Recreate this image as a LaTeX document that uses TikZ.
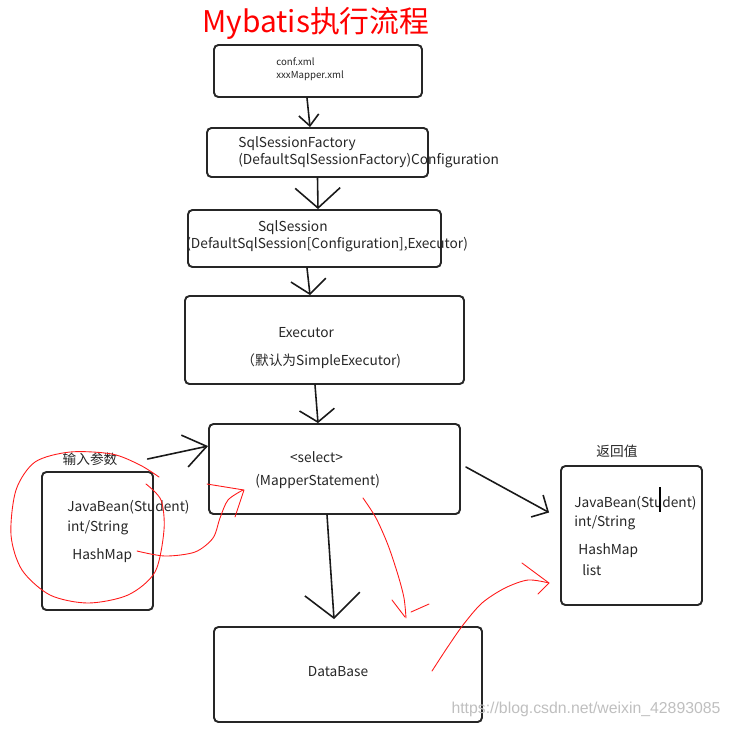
\documentclass[tikz,border=0pt]{standalone}
\usepackage{fontspec}
\setmainfont{Noto Sans CJK SC}
\newfontfamily\urlfont{Liberation Sans}
\usetikzlibrary{arrows.meta, positioning}

\begin{document}
\begin{tikzpicture}[
    x=0.02cm, y=-0.02cm,
    font=\fontsize{7.8}{9.6}\selectfont,
    box/.style={draw=black!85, line width=1.1pt, rounded corners=2.5pt, inner sep=0pt},
    txt/.style={inner sep=0pt, anchor=north west, align=left, text=black!85},
    arrow/.style={line width=0.9pt, black!90, line cap=round},
    sketch/.style={red!90, line width=0.5pt, line cap=round, line join=round}
]
\useasboundingbox (0,0) rectangle (733,728);

\node[text=red, font=\fontsize{17}{17}\selectfont] (title) at (316,23) {Mybatis执行流程};

\node[box, minimum width=4.16cm, minimum height=1.04cm] (conf) at (318,71) {};
\node[box, minimum width=4.42cm, minimum height=0.98cm] (fac) at (317.5,152.5) {};
\node[box, minimum width=5.06cm, minimum height=1.14cm] (ses) at (314.5,238.5) {};
\node[box, minimum width=5.58cm, minimum height=1.76cm] (exe) at (324.5,340) {};
\node[box, minimum width=5.02cm, minimum height=1.80cm] (sel) at (334.5,469) {};
\node[box, minimum width=2.22cm, minimum height=2.76cm] (in) at (97.5,541) {};
\node[box, minimum width=2.82cm, minimum height=2.78cm] (ret) at (631.5,535.5) {};
\node[box, minimum width=5.36cm, minimum height=1.90cm] (db) at (348,674.5) {};

\node[txt, font=\fontsize{5.5}{7.4}\selectfont] (confTxt) at (276,57) {conf.xml\\xxxMapper.xml};
\node[txt] (facTxt) at (238,136) {SqlSessionFactory\\(DefaultSqlSessionFactory)Configuration};
\node[txt] (sesTxt) at (186,220) {\hspace*{40.8pt}SqlSession\\(DefaultSqlSession[Configuration],Executor)};
\node[txt] (exeTxt) at (241,327) {\hspace*{21pt}Executor\\[6.3pt]（默认为SimpleExecutor)};
\node[txt] (selTxt) at (255,451) {\hspace*{19.8pt}<select>\\[3.4pt](MapperStatement)};
\node[txt] (inTxt) at (67,500) {JavaBean(Student)\\[1.7pt]int/String\\[6.3pt]\hspace*{2.8pt}HashMap};
\node[txt] (retTxt) at (574,496) {JavaBean(Student)\\[1.2pt]int/String\\[6.3pt]\hspace*{2.3pt}HashMap\\[2.3pt]\hspace*{4.5pt}list};
\node[text=black!85] (dbTxt) at (338,672) {DataBase};

\node[text=black!85] (inLabel) at (90,459) {输入参数};
\node[text=black!85] (retLabel) at (617,451) {返回值};

\draw[line width=1.2pt] (660,487) -- (660,512);

\draw[arrow, -{Straight Barb[length=0.22cm, width=0.4cm]}] ([xshift=-0.22cm]conf.south) -- ([xshift=-0.15cm]fac.north);
\draw[arrow, -{Straight Barb[length=0.4cm, width=0.9cm]}] (fac.south) -- ([xshift=0.07cm]ses.north);
\draw[arrow, -{Straight Barb[length=0.28cm, width=0.7cm]}] ([xshift=-0.15cm]ses.south) -- ([xshift=-0.29cm]exe.north);
\draw[arrow, -{Straight Barb[length=0.25cm, width=0.7cm]}] ([xshift=-0.19cm]exe.south) -- ([xshift=-0.33cm]sel.north);
\draw[arrow, -{Straight Barb[length=0.45cm, width=0.65cm]}] ([xshift=0.48cm]inLabel.east) -- ([yshift=-0.46cm]sel.north west);
\draw[arrow, -{Straight Barb[length=0.25cm, width=0.5cm]}] ([xshift=0.1cm, yshift=0.04cm]sel.east) -- ([xshift=-0.22cm, yshift=0.46cm]ret.west);
\draw[arrow, -{Straight Barb[length=0.48cm, width=1.1cm]}] ([xshift=-0.15cm]sel.south) -- ([xshift=-0.28cm, yshift=0.14cm]db.north);

\draw[sketch] plot[smooth] coordinates {(159,477) (140,465) (112,454) (70,452) (35,462) (16,490) (11,535) (22,570) (50,595) (88,603) (128,595) (155,572) (164,530) (161,500) (146,484)};
\draw[sketch] plot[smooth] coordinates {(137,551) (165,556) (195,552) (213,538) (220,518) (228,500) (243,490)};
\draw[sketch] (207,484) -- (244,490) -- (235,517);
\draw[sketch] plot[smooth] coordinates {(363,498) (376,518) (388,545) (398,575) (404,598) (406,618)};
\draw[sketch] (392,600) -- (405,617);
\draw[sketch] (411,612) -- (429,604);
\draw[sketch] plot[smooth] coordinates {(432,671) (447,648) (463,625) (482,603) (505,588) (528,580) (549,583)};
\draw[sketch] (522,563) -- (549,583) -- (538,594);

\node[font=\urlfont\fontsize{9}{9}\selectfont, text=black!25] (wm) at (586,709) {https://blog.csdn.net/weixin\_42893085};
\end{tikzpicture}
\end{document}
